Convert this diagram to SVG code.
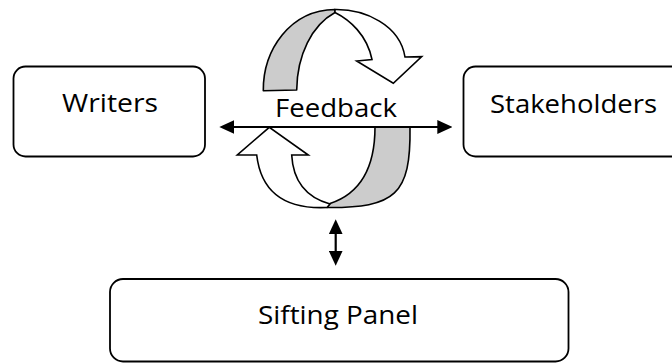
<svg xmlns="http://www.w3.org/2000/svg" width="672" height="364" viewBox="0 0 672 364">
  <style>
    .box { fill: #ffffff; stroke: #000000; stroke-width: 1.8; }
    .label { font-family: "Open Sans", "Liberation Sans", sans-serif; font-size: 26px; fill: #000000; text-anchor: middle; }
    .band { fill: #cccccc; stroke: #000000; stroke-width: 1.6; stroke-linejoin: round; }
    .face { fill: #ffffff; stroke: #000000; stroke-width: 1.6; stroke-linejoin: miter; }
    .link { stroke: #000000; stroke-width: 2.2; fill: none; marker-start: url(#head); marker-end: url(#head); }
  </style>
  <defs>
    <marker id="head" viewBox="0 0 15 14" refX="1" refY="7" markerWidth="15" markerHeight="14" markerUnits="userSpaceOnUse" orient="auto-start-reverse">
      <path d="M0,0 L15,7 L0,14 Z" fill="#000000"/>
    </marker>
  </defs>

  <rect width="672" height="364" fill="#ffffff"/>

  <g id="writers">
    <rect class="box" x="13.5" y="66.5" width="191.5" height="90" rx="12" ry="12"/>
    <text class="label" x="110" y="112" textLength="96" lengthAdjust="spacingAndGlyphs">Writers</text>
  </g>

  <g id="stakeholders">
    <rect class="box" x="463.5" y="66.5" width="220" height="90" rx="12" ry="12"/>
    <text class="label" x="573.5" y="113" textLength="167" lengthAdjust="spacingAndGlyphs">Stakeholders</text>
  </g>

  <g id="sifting-panel">
    <rect class="box" x="110" y="279" width="458.5" height="82.5" rx="13" ry="13"/>
    <text class="label" x="338" y="324" textLength="160" lengthAdjust="spacingAndGlyphs">Sifting Panel</text>
  </g>

  <g id="feedback">
    <!-- upper curved arrow: shaded inner side, then white front face with head -->
    <path class="band" d="M263.3,90.7 C263,50 290,10 335,9.5 L335,12.5 C312,25 297,55 296.7,90 Z"/>
    <path class="face" d="M335,9.5 C365,9 400,25 405,57 L421.7,56.7 L393.3,83.3 L356.7,61 L372,59.5 C367,35 350,20 335,12.5 Z"/>
    <!-- lower curved arrow -->
    <path class="band" d="M375,127 L410,127 C411,195 395,208 327,207.5 L330,203.5 C362,193 375,165 375,127 Z"/>
    <path class="face" d="M327,207.5 C295,209 262,200 256.7,155 L237.3,155 L269.3,127.3 L308.3,155 L291.7,155 C293,180 305,197 330,204 Z"/>
    <text class="label" x="336" y="117" textLength="122" lengthAdjust="spacingAndGlyphs">Feedback</text>
  </g>

  <g id="connectors">
    <line class="link" x1="233.3" y1="127" x2="438.3" y2="127"/>
    <line class="link" x1="335.7" y1="233.3" x2="335.7" y2="251.7"/>
  </g>
</svg>
